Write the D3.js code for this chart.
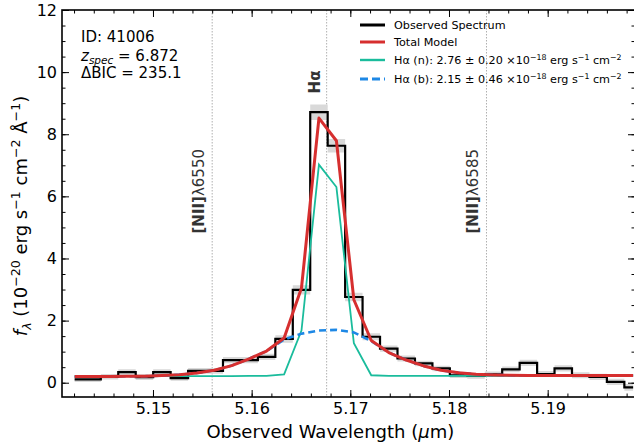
<!DOCTYPE html>
<html>
<head>
<meta charset="utf-8">
<script src="https://cdn.jsdelivr.net/npm/d3@7"></script>
<style>
  body { margin: 0; background: #fff; }
  svg { display: block; font-family: 'DejaVu Sans', sans-serif; }
</style>
</head>
<body>
<svg id="mainFrame" width="634" height="445"></svg>
<script>
// bin centres (micron) and fluxes (1e-20 erg/s/cm2/A)
const wave = [5.14206, 5.14383, 5.14560, 5.14736, 5.14914, 5.15090, 5.15268, 5.15444, 5.15621, 5.15798,
              5.15975, 5.16151, 5.16329, 5.16505, 5.16682, 5.16859, 5.17036, 5.17212, 5.17390, 5.17566,
              5.17744, 5.17920, 5.18097, 5.18274, 5.18451, 5.18627, 5.18805, 5.18981, 5.19158, 5.19335,
              5.19512, 5.19688, 5.19866];
const fluxObs = [0.11, 0.11, 0.19, 0.34, 0.18, 0.34, 0.15, 0.38, 0.38, 0.73,
                 0.73, 0.83, 1.41, 2.99, 8.71, 7.63, 2.76, 1.48, 1.10, 0.78,
                 0.62, 0.46, 0.24, 0.22, 0.27, 0.43, 0.64, 0.28, 0.46, 0.24,
                 0.19, 0.03, -0.15];
const fluxErr = [0.09, 0.09, 0.09, 0.09, 0.09, 0.09, 0.09, 0.09, 0.09, 0.10,
                 0.10, 0.10, 0.12, 0.15, 0.25, 0.22, 0.14, 0.11, 0.10, 0.10,
                 0.09, 0.09, 0.09, 0.09, 0.09, 0.09, 0.10, 0.10, 0.10, 0.10,
                 0.10, 0.10, 0.11];
const totalModel = [0.20, 0.20, 0.20, 0.21, 0.21, 0.23, 0.26, 0.31, 0.40, 0.55,
                    0.77, 1.02, 1.44, 3.05, 8.52, 7.79, 2.67, 1.36, 0.97, 0.73,
                    0.54, 0.40, 0.32, 0.27, 0.25, 0.24, 0.23, 0.23, 0.23, 0.23,
                    0.23, 0.23, 0.23];
const narrowModel = [0.20, 0.20, 0.20, 0.21, 0.21, 0.21, 0.21, 0.21, 0.21, 0.21,
                     0.22, 0.22, 0.27, 1.68, 7.02, 6.30, 1.27, 0.24, 0.22, 0.22,
                     0.22, 0.22, 0.22, 0.22, 0.22, 0.22, 0.23, 0.23, 0.23, 0.23,
                     0.23, 0.23, 0.23];
const broadModel = [0.20, 0.20, 0.20, 0.21, 0.21, 0.23, 0.26, 0.31, 0.40, 0.55,
                    0.77, 1.02, 1.39, 1.58, 1.68, 1.70, 1.62, 1.34, 0.97, 0.73,
                    0.54, 0.40, 0.32, 0.27, 0.25, 0.24, 0.23, 0.23, 0.23, 0.23,
                    0.23, 0.23, 0.23];

const lineWaves = [5.1560, 5.1676, 5.1838];
const lineNames = ['6550', 'Hα', '6585'];
const xTicks = [5.15, 5.16, 5.17, 5.18, 5.19];
const yTicks = [0, 2, 4, 6, 8, 10, 12];

const svg = d3.select('#mainFrame');
const width = +svg.attr('width');
const height = +svg.attr('height');

const margin = { top: 10, right: -1, bottom: 48, left: 62 };
const innerWidth = width - margin.left - margin.right;
const innerHeight = height - margin.top - margin.bottom;

const xScale = d3.scaleLinear()
    .domain([5.14078, 5.19885])
    .range([0, innerWidth]);
const yScale = d3.scaleLinear()
    .domain([-0.46, 12])
    .range([innerHeight, 0]);

const data = wave.map((w, i) => ({
    w, obs: fluxObs[i], err: fluxErr[i],
    tot: totalModel[i], n: narrowModel[i], b: broadModel[i]
}));

const g = svg.append('g')
    .attr('transform', `translate(${margin.left},${margin.top})`);

const defs = svg.append('defs');
defs.append('clipPath').attr('id', 'plotClip')
  .append('rect').attr('width', innerWidth).attr('height', innerHeight);

const plot = g.append('g').attr('clip-path', 'url(#plotClip)');

// rest-frame line markers
plot.selectAll('.lineMark').data(lineWaves)
  .enter().append('line')
    .attr('x1', d => xScale(d)).attr('x2', d => xScale(d))
    .attr('y1', 0).attr('y2', innerHeight)
    .attr('stroke', '#b0b0b0')
    .attr('stroke-width', 1)
    .attr('stroke-dasharray', '1.5,1.5');

// error band
plot.append('path').datum(data)
    .attr('d', d3.area().curve(d3.curveStep)
        .x(d => xScale(d.w))
        .y0(d => yScale(d.obs - d.err))
        .y1(d => yScale(d.obs + d.err)))
    .attr('fill', '#d9d9d9');

const lineGen = key => d3.line().x(d => xScale(d.w)).y(d => yScale(d[key]));

plot.append('path').datum(data)
    .attr('d', lineGen('obs').curve(d3.curveStep))
    .attr('fill', 'none').attr('stroke', '#000').attr('stroke-width', 2.2);

plot.append('path').datum(data)
    .attr('d', lineGen('n'))
    .attr('fill', 'none').attr('stroke', '#1abc9c').attr('stroke-width', 1.8);

plot.append('path').datum(data)
    .attr('d', lineGen('b'))
    .attr('fill', 'none').attr('stroke', '#1e88e5').attr('stroke-width', 2.6)
    .attr('stroke-dasharray', '7,4');

plot.append('path').datum(data)
    .attr('d', lineGen('tot'))
    .attr('fill', 'none').attr('stroke', '#d62f2f').attr('stroke-width', 3)
    .attr('stroke-linejoin', 'round');

// axes: ticks inward on all four sides
const xMinor = d3.range(5.142, 5.1985, 0.002);
const yMinor = d3.range(0, 12.01, 0.5);

const styleAxis = sel => {
    sel.selectAll('.domain').remove();
    sel.selectAll('line').attr('stroke', '#000').attr('stroke-width', 1);
    sel.selectAll('text').filter(function () { return this.textContent === ''; }).remove();
    sel.selectAll('text').attr('font-size', 16).attr('fill', '#000')
        .attr('font-family', 'DejaVu Sans');
};

g.append('g').attr('transform', `translate(0,${innerHeight})`)
    .call(d3.axisBottom(xScale).tickValues(xTicks).tickFormat(d3.format('.2f'))
        .tickSizeInner(-7).tickSizeOuter(0).tickPadding(6))
    .call(styleAxis);
g.append('g').attr('transform', `translate(0,${innerHeight})`)
    .call(d3.axisBottom(xScale).tickValues(xMinor).tickFormat('').tickSizeInner(-3.5).tickSizeOuter(0))
    .call(styleAxis);
g.append('g')
    .call(d3.axisTop(xScale).tickValues(xTicks).tickFormat('').tickSizeInner(-7).tickSizeOuter(0))
    .call(styleAxis);
g.append('g')
    .call(d3.axisTop(xScale).tickValues(xMinor).tickFormat('').tickSizeInner(-3.5).tickSizeOuter(0))
    .call(styleAxis);

g.append('g')
    .call(d3.axisLeft(yScale).tickValues(yTicks).tickSizeInner(-7).tickSizeOuter(0).tickPadding(5))
    .call(styleAxis);
g.append('g')
    .call(d3.axisLeft(yScale).tickValues(yMinor).tickFormat('').tickSizeInner(-3.5).tickSizeOuter(0))
    .call(styleAxis);
g.append('g').attr('transform', `translate(${innerWidth},0)`)
    .call(d3.axisRight(yScale).tickValues(yTicks).tickFormat('').tickSizeInner(-7).tickSizeOuter(0))
    .call(styleAxis);
g.append('g').attr('transform', `translate(${innerWidth},0)`)
    .call(d3.axisRight(yScale).tickValues(yMinor).tickFormat('').tickSizeInner(-3.5).tickSizeOuter(0))
    .call(styleAxis);

// frame
g.append('rect')
    .attr('width', innerWidth).attr('height', innerHeight)
    .attr('fill', 'none').attr('stroke', '#000').attr('stroke-width', 1.6);

// helper for text with sub/superscripts: parts = [[text, kind], ...]
const richText = (sel, parts, size) => {
    let shift = 0;   // baseline offset still to undo on the next tspan
    parts.forEach(([t, kind]) => {
        const small = size * 0.7;
        const span = sel.append('tspan');
        if (kind === 'sup') {
            span.attr('font-size', small).attr('dy', -shift - size * 0.38);
            shift = -size * 0.38;
        } else if (kind === 'sub' || kind === 'subit') {
            span.attr('font-size', small).attr('dy', -shift + size * 0.2)
                .attr('font-style', kind === 'subit' ? 'italic' : null);
            shift = size * 0.2;
        } else {
            span.attr('font-size', size)
                .attr('font-style', kind === 'it' ? 'italic' : null)
                .attr('font-weight', kind === 'b' ? 'bold' : null);
            if (shift !== 0) span.attr('dy', -shift);
            shift = 0;
        }
        span.text(t);
    });
};

// line labels
const labelLayer = g.append('g');
lineWaves.forEach((w, i) => {
    const x = xScale(w);
    if (lineNames[i] === 'Hα') {
        const t = labelLayer.append('text')
            .attr('transform', `translate(${x - 7},72) rotate(-90)`)
            .attr('text-anchor', 'middle').attr('fill', '#333');
        richText(t, [['Hα', 'b']], 15);
    } else {
        const t = labelLayer.append('text')
            .attr('transform', `translate(${x - 8},${139}) rotate(-90)`)
            .attr('text-anchor', 'end').attr('fill', '#333');
        richText(t, [['[NII]', 'b'], ['λ' + lineNames[i], 'n']], 15);
    }
});

// info text
const info = g.append('g').attr('fill', '#000');
richText(info.append('text').attr('x', 19).attr('y', 32), [['ID: 41006', 'n']], 15);
richText(info.append('text').attr('x', 19).attr('y', 51),
    [['z', 'it'], ['spec', 'subit'], [' = 6.872', 'n']], 15);
richText(info.append('text').attr('x', 19).attr('y', 68), [['ΔBIC = 235.1', 'n']], 15);

// legend
const legendItems = [
    { color: '#000', width: 3, dash: null, parts: [['Observed Spectrum', 'n']] },
    { color: '#d62f2f', width: 3, dash: null, parts: [['Total Model', 'n']] },
    { color: '#1abc9c', width: 2.4, dash: null,
      parts: [['Hα (n): 2.76 ± 0.20 ×10', 'n'], ['−18', 'sup'], [' erg s', 'n'], ['−1', 'sup'], [' cm', 'n'], ['−2', 'sup']] },
    { color: '#1e88e5', width: 3, dash: '8,4',
      parts: [['Hα (b): 2.15 ± 0.46 ×10', 'n'], ['−18', 'sup'], [' erg s', 'n'], ['−1', 'sup'], [' cm', 'n'], ['−2', 'sup']] }
];
const legendY = [15, 32, 50, 69];
const legend = g.append('g');
legendItems.forEach((item, i) => {
    const row = legend.append('g').attr('transform', `translate(298,${legendY[i]})`);
    row.append('line').attr('x1', 0).attr('x2', 25).attr('y1', 0).attr('y2', 0)
        .attr('stroke', item.color).attr('stroke-width', item.width)
        .attr('stroke-dasharray', item.dash);
    const t = row.append('text').attr('x', 34).attr('y', 4).attr('fill', '#000');
    richText(t, item.parts, 11.2);
});

// axis labels
g.append('text')
    .attr('x', (xScale(5.15) + xScale(5.19)) / 2 - 20)
    .attr('y', innerHeight + 41)
    .attr('text-anchor', 'middle')
    .call(t => richText(t, [['Observed Wavelength (', 'n'], ['μ', 'it'], ['m)', 'n']], 18));

const yLab = g.append('text')
    .attr('transform', `translate(${-35},${216 - margin.top}) rotate(-90)`)
    .attr('text-anchor', 'middle');
richText(yLab, [['f', 'it'], ['λ', 'subit'], [' (10', 'n'], ['−20', 'sup'], [' erg s', 'n'],
    ['−1', 'sup'], [' cm', 'n'], ['−2', 'sup'], [' Å', 'n'], ['−1', 'sup'], [')', 'n']], 18);
</script>
</body>
</html>
